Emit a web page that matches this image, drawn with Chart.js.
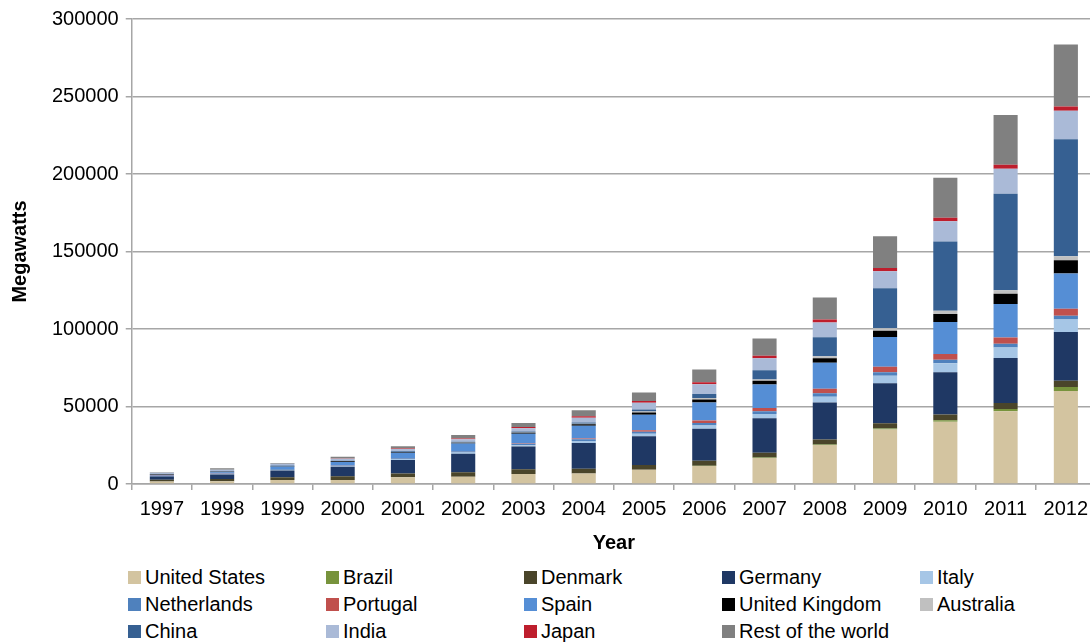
<!DOCTYPE html>
<html>
<head>
<meta charset="utf-8">
<script src="https://cdn.jsdelivr.net/npm/chart.js@4.4.1/dist/chart.umd.min.js"></script>
<style>
  html, body { margin: 0; padding: 0; background: #fff; overflow: hidden; }
  body { width: 1090px; height: 642px; position: relative; font-family: "Liberation Sans", Arial, sans-serif; }
  #wrap { position: absolute; left: 0; top: 0; width: 1096px; height: 563px; }
  #legend { position: absolute; left: 128px; top: 564px; display: grid;
            grid-template-columns: repeat(5, 198px); grid-auto-rows: 27px; }
  .item { display: flex; align-items: center; font-size: 20px; color: #000; white-space: nowrap; }
  .box { width: 13px; height: 13px; margin-right: 4px; flex: none; }
</style>
</head>
<body>
<div id="wrap"><canvas id="windChart"></canvas></div>
<div id="legend"></div>
<script>
const years = ["1997", "1998", "1999", "2000", "2001", "2002", "2003", "2004",
               "2005", "2006", "2007", "2008", "2009", "2010", "2011", "2012"];

// installed capacity, megawatts
const unitedStates = [1611, 1820, 2534, 2578, 4275, 4685, 6372, 6725, 9149, 11603, 16819, 25170, 35159, 40200, 46919, 60007];
const brazil = [3, 17, 19, 22, 24, 22, 29, 29, 29, 237, 247, 339, 606, 932, 1509, 2508];
const denmark = [1116, 1420, 1738, 2341, 2456, 2880, 3110, 3124, 3128, 3136, 3125, 3180, 3465, 3752, 3871, 4162];
const germany = [2081, 2875, 4442, 6113, 8754, 11994, 14609, 16629, 18428, 20622, 22247, 23903, 25777, 27214, 29060, 31332];
const italy = [103, 180, 277, 427, 682, 788, 905, 1266, 1718, 2123, 2726, 3736, 4850, 5797, 6747, 8144];
const netherlands = [319, 361, 433, 446, 486, 693, 910, 1079, 1219, 1560, 1747, 2225, 2229, 2237, 2328, 2391];
const portugal = [38, 60, 61, 100, 131, 195, 296, 522, 1022, 1716, 2150, 2862, 3535, 3702, 4083, 4525];
const spain = [512, 880, 1812, 2235, 3337, 4825, 6203, 8263, 10027, 11630, 15145, 16740, 19149, 20676, 21674, 22796];
const unitedKingdom = [328, 338, 362, 406, 474, 552, 667, 888, 1353, 1963, 2389, 2974, 4051, 5204, 6540, 8445];
const australia = [6, 9, 9, 30, 73, 105, 198, 379, 708, 817, 817, 1306, 1712, 1991, 2224, 2584];
const china = [146, 200, 262, 352, 406, 473, 568, 764, 1260, 2604, 5912, 12210, 25805, 44733, 62364, 75564];
const india = [940, 1015, 1077, 1220, 1456, 1702, 2125, 3000, 4430, 6270, 7850, 9587, 10925, 13064, 16084, 18421];
const japan = [18, 30, 68, 142, 357, 415, 761, 991, 1040, 1394, 1538, 1880, 2056, 2304, 2501, 2614];
const restOfWorld = [380, 1000, 450, 1200, 1500, 2300, 2680, 3960, 5580, 8260, 11180, 14180, 20450, 25830, 32130, 40000];

const yTicks = [0, 50000, 100000, 150000, 200000, 250000, 300000];

const series = [
  ["United States", unitedStates, "#D3C4A0"],
  ["Brazil", brazil, "#77933C"],
  ["Denmark", denmark, "#4A452A"],
  ["Germany", germany, "#1F3864"],
  ["Italy", italy, "#A6C6E6"],
  ["Netherlands", netherlands, "#4F81BD"],
  ["Portugal", portugal, "#C0504D"],
  ["Spain", spain, "#558ED5"],
  ["United Kingdom", unitedKingdom, "#000000"],
  ["Australia", australia, "#C0C0C0"],
  ["China", china, "#366092"],
  ["India", india, "#AABAD7"],
  ["Japan", japan, "#BE1E2D"],
  ["Rest of the world", restOfWorld, "#808080"],
];

const FONT = "'Liberation Sans', Arial, sans-serif";
const GRID = "#A6A6A6";

const ctx = document.getElementById("windChart").getContext("2d");
const chart = new Chart(ctx, {
  type: "bar",
  data: {
    labels: years,
    datasets: series.map(([label, data, color]) => ({
      label: label,
      data: data,
      backgroundColor: color,
      borderWidth: 0,
      barPercentage: 0.4,
      categoryPercentage: 1,
    })),
  },
  options: {
    responsive: true,
    maintainAspectRatio: false,
    animation: false,
    layout: { padding: { top: 6, left: 8, right: 0, bottom: 4 } },
    plugins: {
      legend: { display: false },
      tooltip: { enabled: false },
    },
    scales: {
      x: {
        stacked: true,
        grid: { drawOnChartArea: false, drawTicks: true, tickLength: 6, color: GRID, lineWidth: 1.5 },
        border: { color: GRID, width: 1.5 },
        ticks: { color: "#000", padding: 7, font: { family: FONT, size: 20 } },
        title: { display: true, text: "Year", color: "#000", padding: { top: 3, bottom: 4 },
                 font: { family: FONT, size: 20, weight: "bold" } },
      },
      y: {
        stacked: true,
        min: 0,
        max: 300000,
        afterBuildTicks: (axis) => { axis.ticks = yTicks.map((v) => ({ value: v })); },
        grid: { color: GRID, lineWidth: 1.5, tickLength: 6 },
        border: { color: GRID, width: 1.5 },
        ticks: { color: "#000", padding: 7, font: { family: FONT, size: 20 },
                 callback: (v) => String(v) },
        title: { display: true, text: "Megawatts", color: "#000", padding: { top: 0, bottom: 13 },
                 font: { family: FONT, size: 20, weight: "bold" } },
      },
    },
  },
});

// legend as a 5-column grid, like the original
const legend = document.getElementById("legend");
chart.data.datasets.forEach((ds) => {
  const item = document.createElement("div");
  item.className = "item";
  const box = document.createElement("span");
  box.className = "box";
  box.style.background = ds.backgroundColor;
  item.appendChild(box);
  item.appendChild(document.createTextNode(ds.label));
  legend.appendChild(item);
});
</script>
</body>
</html>
